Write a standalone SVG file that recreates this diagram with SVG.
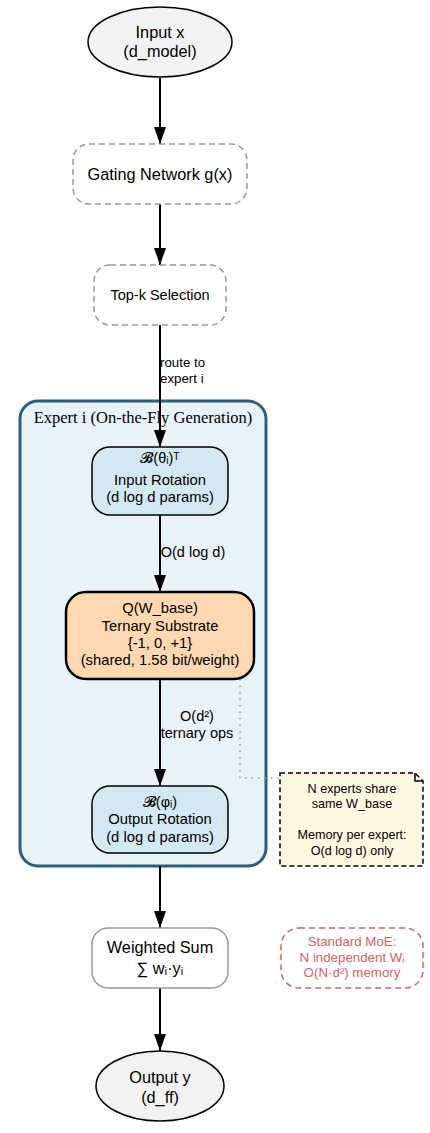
<svg xmlns="http://www.w3.org/2000/svg" width="430" height="1133" viewBox="0 0 430 1133">
<defs>
<marker id="arr" markerWidth="17" markerHeight="12" refX="17" refY="6" orient="auto" markerUnits="userSpaceOnUse"><path d="M0,0 L17,6 L0,12 Z" fill="#000"/></marker>
</defs>
<style>
text{font-family:"Liberation Sans",Arial,sans-serif;fill:#000;text-anchor:middle}
.t16{font-size:16.3px}
.t15{font-size:14.8px}
.t14{font-size:14.5px}
.t13{font-size:13.3px}
.t12{font-size:12.6px}
.edge{stroke:#000;stroke-width:2;fill:none}
.moe{fill:#d06464}
</style>
<rect width="430" height="1133" fill="#fff"/>
<g id="cluster_expert">
<rect x="20" y="401" width="246" height="465" rx="18" fill="#e8f3f8" stroke="#2d5f7a" stroke-width="3"/>
<text x="143" y="423" style="font-family:'Liberation Serif','Times New Roman',serif;font-size:16.5px">Expert i (On-the-Fly Generation)</text>
</g>
<g id="connectors">
<line class="edge" x1="160" y1="78" x2="160" y2="144" marker-end="url(#arr)"/>
<line class="edge" x1="160" y1="204" x2="160" y2="265" marker-end="url(#arr)"/>
<line class="edge" x1="160" y1="325" x2="160" y2="447" marker-end="url(#arr)"/>
<text class="t13" x="160" y="367" style="text-anchor:start">route to</text>
<text class="t13" x="160" y="383" style="text-anchor:start">expert i</text>
<line class="edge" x1="160" y1="515" x2="160" y2="592" marker-end="url(#arr)"/>
<text class="t14" x="193" y="557">O(d log d)</text>
<line class="edge" x1="160" y1="679" x2="160" y2="786" marker-end="url(#arr)"/>
<text class="t14" x="197" y="721">O(d²)</text>
<text class="t14" x="197" y="738">ternary ops</text>
<line class="edge" x1="160" y1="866" x2="160" y2="928" marker-end="url(#arr)"/>
<line class="edge" x1="160" y1="988" x2="160" y2="1051" marker-end="url(#arr)"/>
<path d="M240,679 V778 H280" fill="none" stroke="#999" stroke-width="1.5" stroke-dasharray="1.5,5"/>
</g>
<g id="input">
<ellipse cx="160" cy="42" rx="72" ry="35" fill="#f2f2f2" stroke="#000" stroke-width="1.5"/>
<text class="t16" x="160" y="38">Input x</text>
<text class="t16" x="160" y="57">(d_model)</text>
</g>
<g id="gating">
<rect x="73" y="144" width="174" height="60" rx="16" fill="#fff" stroke="#999" stroke-width="1.5" stroke-dasharray="6,4"/>
<text class="t16" x="160" y="180">Gating Network g(x)</text>
</g>
<g id="topk">
<rect x="94" y="265" width="132" height="60" rx="16" fill="#fff" stroke="#999" stroke-width="1.5" stroke-dasharray="6,4"/>
<text x="160" y="300" style="font-size:14.5px">Top-k Selection</text>
</g>
<g id="input_rotation">
<rect x="92" y="447" width="136" height="68" rx="18" fill="#d4e8f2" stroke="#000" stroke-width="1.5"/>
<text class="t14" x="160" y="463">𝓑(θᵢ)ᵀ</text>
<text class="t15" x="160" y="485">Input Rotation</text>
<text class="t15" x="160" y="502">(d log d params)</text>
</g>
<g id="ternary">
<rect x="66" y="592" width="188" height="87" rx="20" fill="#ffd8b1" stroke="#000" stroke-width="2.5"/>
<text class="t15" x="160" y="613">Q(W_base)</text>
<text class="t15" x="160" y="631">Ternary Substrate</text>
<text class="t15" x="160" y="648">{-1, 0, +1}</text>
<text class="t15" x="160" y="665">(shared, 1.58 bit/weight)</text>
</g>
<g id="output_rotation">
<rect x="92" y="786" width="136" height="67" rx="18" fill="#d4e8f2" stroke="#000" stroke-width="1.5"/>
<text class="t14" x="160" y="807">𝓑(φᵢ)</text>
<text class="t15" x="160" y="824">Output Rotation</text>
<text class="t15" x="160" y="842">(d log d params)</text>
</g>
<g id="note">
<path d="M280,773 H415 L423,781 V866 H280 Z" fill="#fff8e1" stroke="#000" stroke-width="1.5" stroke-dasharray="5,3"/>
<path d="M415,773 V781 H423" fill="none" stroke="#000" stroke-width="1.5"/>
<text class="t12" x="352" y="793">N experts share</text>
<text class="t12" x="352" y="808">same W_base</text>
<text class="t12" x="352" y="839">Memory per expert:</text>
<text class="t12" x="352" y="855">O(d log d) only</text>
</g>
<g id="weighted_sum">
<rect x="92" y="928" width="136" height="60" rx="16" fill="#fff" stroke="#999" stroke-width="1.5"/>
<text class="t16" x="160" y="953">Weighted Sum</text>
<text class="t16" x="160" y="974">∑ wᵢ·yᵢ</text>
</g>
<g id="standard_moe">
<rect x="281" y="928" width="142" height="60" rx="18" fill="#fff" stroke="#d06464" stroke-width="1.5" stroke-dasharray="6,4"/>
<text class="t13 moe" x="352" y="946">Standard MoE:</text>
<text class="t13 moe" x="352" y="962">N independent Wᵢ</text>
<text class="t13 moe" x="352" y="977">O(N·d²) memory</text>
</g>
<g id="output">
<ellipse cx="160" cy="1086" rx="64" ry="35" fill="#f2f2f2" stroke="#000" stroke-width="1.5"/>
<text class="t16" x="160" y="1083">Output y</text>
<text class="t16" x="160" y="1103">(d_ff)</text>
</g>
</svg>
